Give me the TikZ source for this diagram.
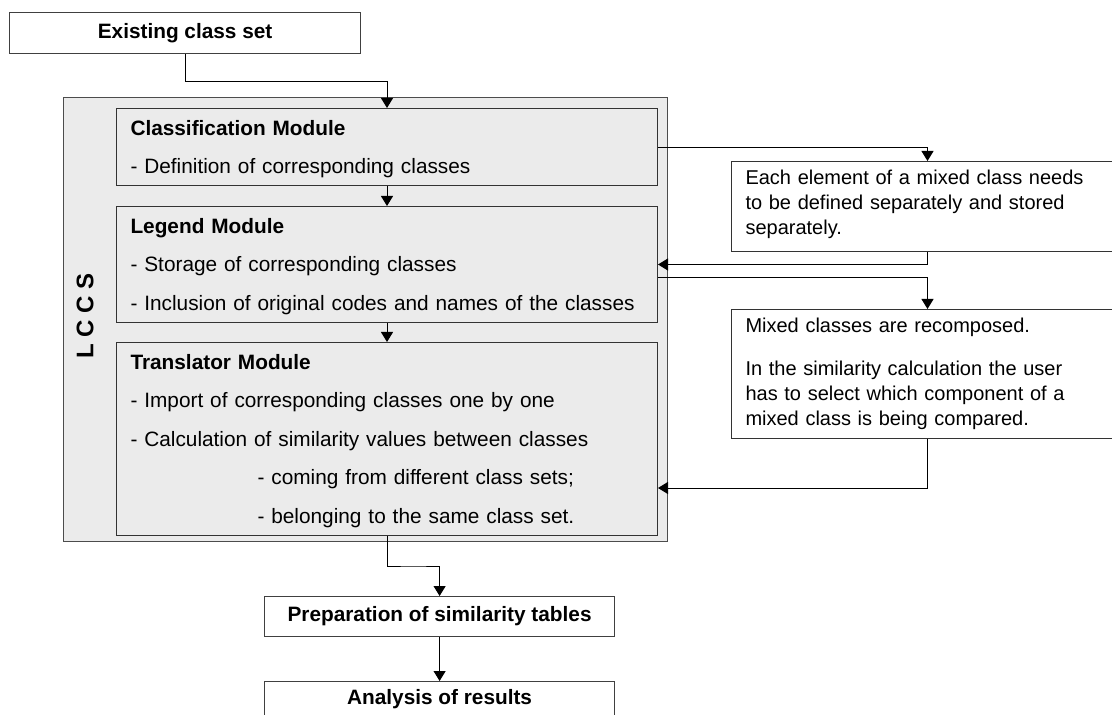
\documentclass[tikz,border=0pt]{standalone}
\usepackage{fontspec}
\setmainfont{Liberation Sans}
\usetikzlibrary{positioning, arrows.meta, calc}

\begin{document}
\begin{tikzpicture}[
            x=0.5pt, y=-0.5pt,
            every node/.style={font=\fontsize{10.4}{12.5}\selectfont},
            box/.style={draw=black!75, line width=0.6pt, fill=white, anchor=north west,
                        inner sep=0pt, font=\bfseries\fontsize{10.4}{12.5}\selectfont},
            frame/.style={draw=black!70, line width=0.7pt, fill=black!8, anchor=north west, inner sep=0pt},
            module/.style={draw=black!80, line width=0.5pt, fill=black!8, anchor=north west,
                           text width=256.5pt, inner xsep=7pt, inner ysep=0pt, align=left,
                           text height=13.5pt, font=\fontsize{10.4}{19.25}\selectfont},
            note/.style={draw=black!80, line width=0.5pt, fill=white, anchor=north west,
                         text width=182pt, inner xsep=7pt, inner ysep=0pt, align=left, text height=11.5pt,
                         font=\fontsize{10}{12.5}\selectfont},
            arrow/.style={-{Triangle[length=5pt, width=6pt]}, line width=0.5pt}
      ]
      \useasboundingbox (0,0) rectangle (1112,715);

      % Input
      \node[box, minimum width=175.5pt, minimum height=20.5pt] (exist) at (9,12) {Existing class set};

      % LCCS frame
      \node[frame, minimum width=302pt, minimum height=222pt] (lccs) at (63,97) {};
      \node[rotate=90, font=\bfseries\fontsize{12}{14}\selectfont] (lccstxt) at (85,316) {L C C S};

      % Modules
      \node[module, text depth=25.25pt] (cls) at (116,108)
            {\textbf{Classification Module}\\- Definition of corresponding classes};
      \node[module, text depth=44.5pt] (leg) at (116,206)
            {\textbf{Legend Module}\\- Storage of corresponding classes\\- Inclusion of original codes and names of the classes};
      \node[module, text depth=83pt] (tra) at (116,342)
            {\textbf{Translator Module}\\- Import of corresponding classes one by one\\- Calculation of similarity values between classes\\
             \hspace*{63.5pt}- coming from different class sets;\\\hspace*{63.5pt}- belonging to the same class set.};

      % Notes
      \node[note, text depth=33.75pt] (note1) at (731,161)
            {Each element of a mixed class needs\\to be defined separately and stored\\separately.};
      \node[note, text depth=53pt] (note2) at (731,309)
            {Mixed classes are recomposed.\\[9pt]In the similarity calculation the user\\has to select which component of a\\mixed class is being compared.};

      % Output
      \node[box, minimum width=175pt, minimum height=20pt] (prep) at (264,596) {Preparation of similarity tables};
      \node[box, minimum width=175pt, minimum height=17.5pt] (ana) at (264,681) {Analysis of results};

      \draw[arrow] (exist.south) |- ($(exist.south)!.5!(cls.north)$) -| (cls.north);
      \draw[arrow] (cls.south) -- (leg.north);
      \draw[arrow] (leg.south) -- (tra.north);

      \draw[arrow] (cls.east) -| (note1.north);
      \draw[arrow] (note1.south) |- (leg.east);
      \draw[arrow] ([yshift=-6.5pt]leg.east) -| (note2.north);
      \draw[arrow] (note2.south) |- ([yshift=-24.5pt]tra.east);

      \draw[arrow] (tra.south) |- ($(tra.south)!.5!(prep.north)$) -| (prep.north);
      \draw[arrow] (prep.south) -- (ana.north);
\end{tikzpicture}
\end{document}
